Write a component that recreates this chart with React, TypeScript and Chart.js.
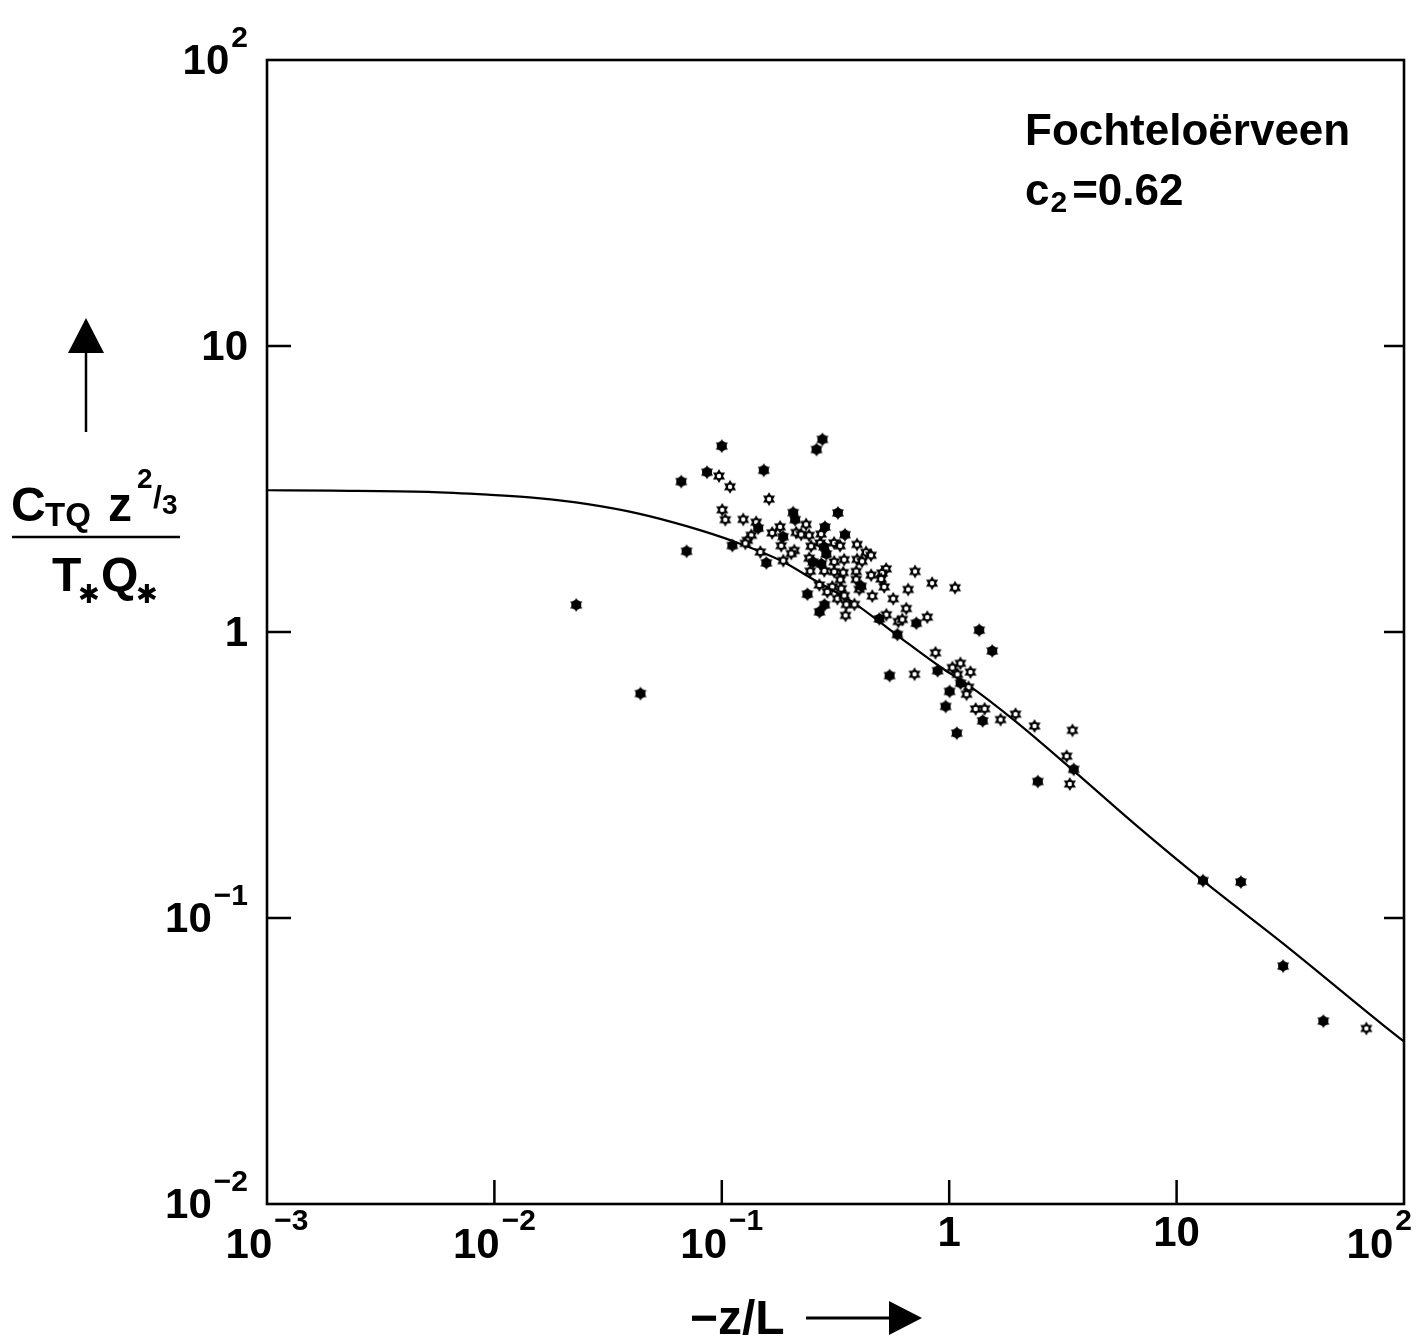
import React, { useEffect, useRef } from "react";
import { Chart, registerables } from "chart.js";

Chart.register(...registerables);

// ---- Data ----
const curveX = [0.001, 0.00193, 0.0051, 0.00935, 0.0155, 0.0257, 0.0426, 0.0706, 0.1136, 0.1824, 0.255, 0.383, 0.592, 0.925, 1.205, 1.94, 3.56, 6.55, 13.06, 30.0, 80.2, 100];
const curveY = [3.13, 3.12, 3.09, 3.02, 2.94, 2.8, 2.6, 2.34, 2.07, 1.774, 1.519, 1.26, 0.972, 0.75, 0.655, 0.49, 0.325, 0.213, 0.135, 0.0804, 0.0425, 0.037];

const filledX = [0.0229, 0.0439, 0.0663, 0.0861, 0.1, 0.07, 0.1113, 0.153, 0.277, 0.261, 0.1445, 0.206, 0.21, 0.324, 0.284, 0.186, 0.348, 0.282, 0.157, 0.288, 0.252, 0.274, 0.41, 0.238, 0.283, 0.269, 0.493, 0.717, 0.592, 1.355, 1.546, 0.547, 0.889, 1.122, 1.004, 0.965, 1.403, 1.08, 3.528, 2.454, 13.06, 19.17, 29.4, 44.2];
const filledY = [1.244, 0.609, 3.356, 3.62, 4.468, 1.915, 2.006, 3.677, 4.714, 4.346, 2.307, 2.614, 2.471, 2.609, 2.327, 2.153, 2.188, 1.982, 1.744, 1.874, 1.755, 1.729, 1.445, 1.356, 1.245, 1.176, 1.111, 1.073, 0.98, 1.015, 0.859, 0.704, 0.732, 0.662, 0.62, 0.549, 0.489, 0.443, 0.331, 0.3, 0.1351, 0.1336, 0.0679, 0.0436];

const openX = [0.0972, 0.1087, 0.1613, 0.1004, 0.1036, 0.1242, 0.1416, 0.1348, 0.1294, 0.1269, 0.2348, 0.2733, 0.1805, 0.1665, 0.1825, 0.2123, 0.2233, 0.2421, 0.247, 0.2706, 0.3118, 0.3313, 0.3932, 0.2083, 0.2021, 0.1477, 0.1864, 0.2424, 0.3122, 0.3451, 0.4308, 0.4533, 0.3936, 0.414, 0.245, 0.2822, 0.3122, 0.342, 0.39, 0.528, 0.507, 0.7077, 0.332, 0.39, 0.4538, 0.502, 0.2685, 0.306, 0.3354, 0.4023, 0.518, 0.841, 1.061, 0.66, 0.2912, 0.3224, 0.3457, 0.4588, 0.5674, 0.353, 0.383, 0.35, 0.529, 0.6475, 0.5976, 0.622, 0.801, 0.87, 0.704, 1.033, 1.12, 1.087, 1.24, 1.216, 1.192, 1.307, 1.431, 1.683, 1.958, 2.373, 3.484, 3.284, 3.391, 68.3];
const openY = [3.511, 3.219, 2.915, 2.674, 2.469, 2.475, 2.42, 2.179, 2.092, 2.042, 2.378, 2.199, 2.332, 2.221, 2.003, 2.227, 2.193, 2.178, 1.995, 2.046, 2.05, 2.002, 2.023, 1.927, 1.881, 1.904, 1.776, 1.811, 1.76, 1.79, 1.9, 1.855, 1.793, 1.766, 1.632, 1.635, 1.624, 1.613, 1.628, 1.662, 1.608, 1.628, 1.524, 1.527, 1.58, 1.532, 1.46, 1.439, 1.418, 1.41, 1.438, 1.482, 1.428, 1.408, 1.382, 1.308, 1.341, 1.335, 1.307, 1.248, 1.249, 1.143, 1.149, 1.208, 1.088, 1.106, 1.127, 0.846, 0.712, 0.751, 0.777, 0.711, 0.724, 0.641, 0.606, 0.538, 0.539, 0.494, 0.516, 0.469, 0.453, 0.368, 0.294, 0.0411];

const xTickValues = [0.001, 0.01, 0.1, 1, 10, 100];
const xTickBase = ["10", "10", "10", "1", "10", "10"];
const xTickExp = ["\u22123", "\u22122", "\u22121", "", "", "2"];
const yTickValues = [100, 10, 1, 0.1, 0.01];
const yTickBase = ["10", "10", "1", "10", "10"];
const yTickExp = ["2", "", "", "\u22121", "\u22122"];

const siteName = "Fochtelo\u00ebrveen";
const c2Value = "=0.62";

const FONT = '"Liberation Sans", Arial, Helvetica, sans-serif';

function makeMarker(filled: boolean): HTMLCanvasElement {
  const c = document.createElement("canvas");
  const s = 16;
  c.width = s;
  c.height = s;
  const g = c.getContext("2d")!;
  const cx = s / 2;
  const cy = s / 2;
  const R = 7;
  g.fillStyle = "#000";
  for (const rot of [-Math.PI / 2, Math.PI / 2]) {
    g.beginPath();
    for (let k = 0; k < 3; k++) {
      const a = rot + (k * 2 * Math.PI) / 3;
      const px = cx + R * Math.cos(a);
      const py = cy + R * Math.sin(a);
      if (k === 0) g.moveTo(px, py);
      else g.lineTo(px, py);
    }
    g.closePath();
    g.fill();
  }
  if (filled) {
    g.beginPath();
    g.arc(cx, cy, 5, 0, 2 * Math.PI);
    g.fill();
  } else {
    g.fillStyle = "#fff";
    g.beginPath();
    g.arc(cx, cy, 2.2, 0, 2 * Math.PI);
    g.fill();
  }
  return c;
}

const decorPlugin = {
  id: "decor",
  afterDraw(chart: any) {
    const ctx: CanvasRenderingContext2D = chart.ctx;
    const { left, right, top, bottom } = chart.chartArea;
    const xs = chart.scales.x;
    const ys = chart.scales.y;
    const setFont = (size: number, fam: string = FONT) => {
      ctx.font = `bold ${size}px ${fam}`;
    };
    ctx.save();
    ctx.fillStyle = "#000";
    ctx.strokeStyle = "#000";
    ctx.lineCap = "butt";

    // frame
    ctx.lineWidth = 2.6;
    ctx.strokeRect(left, top, right - left, bottom - top);

    // inward ticks
    ctx.lineWidth = 2.5;
    ctx.beginPath();
    yTickValues.forEach((v) => {
      if (v >= 100 || v <= 0.01) return;
      const py = ys.getPixelForValue(v);
      ctx.moveTo(left, py);
      ctx.lineTo(left + 24, py);
      ctx.moveTo(right, py);
      ctx.lineTo(right - 20, py);
    });
    xTickValues.forEach((v) => {
      if (v <= 0.001 || v >= 100) return;
      const px = xs.getPixelForValue(v);
      ctx.moveTo(px, bottom);
      ctx.lineTo(px, bottom - 24);
    });
    ctx.stroke();

    // y tick labels
    ctx.textAlign = "left";
    ctx.textBaseline = "alphabetic";
    const RX = 248;
    yTickValues.forEach((v, i) => {
      const py = ys.getPixelForValue(v);
      setFont(42);
      const wB = ctx.measureText(yTickBase[i]).width;
      let wE = 0;
      if (yTickExp[i]) {
        setFont(30);
        wE = ctx.measureText(yTickExp[i]).width + 2;
      }
      const start = RX - wB - wE;
      setFont(42);
      ctx.fillText(yTickBase[i], start, py + 14);
      if (yTickExp[i]) {
        setFont(30);
        ctx.fillText(yTickExp[i], start + wB + 2, py - 13);
      }
    });

    // x tick labels
    xTickValues.forEach((v, i) => {
      const px = xs.getPixelForValue(v);
      setFont(42);
      const wB = ctx.measureText(xTickBase[i]).width;
      let wE = 0;
      if (xTickExp[i]) {
        setFont(30);
        wE = ctx.measureText(xTickExp[i]).width + 2;
      }
      const total = wB + wE;
      let cx = px;
      const maxC = chart.width - total / 2 - 5;
      if (cx > maxC) cx = maxC;
      const start = cx - total / 2;
      const base = xTickExp[i] ? bottom + 54 : bottom + 42;
      setFont(42);
      ctx.fillText(xTickBase[i], start, base);
      if (xTickExp[i]) {
        setFont(30);
        ctx.fillText(xTickExp[i], start + wB + 2, base - 28);
      }
    });

    // x axis title with arrow
    setFont(48);
    ctx.fillText("\u2212z/L", 690, 1334);
    ctx.lineWidth = 3;
    ctx.beginPath();
    ctx.moveTo(806, 1318);
    ctx.lineTo(892, 1318);
    ctx.stroke();
    ctx.beginPath();
    ctx.moveTo(889, 1301);
    ctx.lineTo(922, 1318);
    ctx.lineTo(889, 1335);
    ctx.closePath();
    ctx.fill();

    // y axis title: arrow
    ctx.lineWidth = 2.5;
    ctx.beginPath();
    ctx.moveTo(86, 432);
    ctx.lineTo(86, 350);
    ctx.stroke();
    ctx.beginPath();
    ctx.moveTo(86, 318);
    ctx.lineTo(104, 353);
    ctx.lineTo(68, 353);
    ctx.closePath();
    ctx.fill();

    // y axis title: fraction
    setFont(48);
    ctx.fillText("C", 11, 521);
    setFont(33);
    ctx.fillText("TQ", 45, 526);
    setFont(48);
    ctx.fillText("z", 108, 521);
    setFont(28);
    ctx.fillText("2", 137, 488);
    setFont(32);
    ctx.fillText("/", 153, 508);
    setFont(28);
    ctx.fillText("3", 162, 514);
    ctx.lineWidth = 2.5;
    ctx.beginPath();
    ctx.moveTo(12, 537);
    ctx.lineTo(180, 537);
    ctx.stroke();
    setFont(48);
    ctx.fillText("T", 52, 591);
    ctx.fillText("Q", 101, 591);
    setFont(26, '"DejaVu Sans", sans-serif');
    ctx.fillText("\u2731", 78, 603);
    ctx.fillText("\u2731", 136, 603);

    // annotation
    setFont(44);
    ctx.fillText(siteName, 1025, 145);
    ctx.fillText("c", 1025, 205);
    const wc = ctx.measureText("c").width;
    setFont(30);
    ctx.fillText("2", 1025 + wc + 1, 212);
    const w2 = ctx.measureText("2").width;
    setFont(44);
    ctx.fillText(c2Value, 1025 + wc + w2 + 6, 205);

    ctx.restore();
  },
};

export default function App() {
  const ref = useRef<HTMLCanvasElement | null>(null);
  useEffect(() => {
    if (!ref.current) return;
    const filledMarker = makeMarker(true);
    const openMarker = makeMarker(false);
    const chart = new Chart(ref.current, {
      type: "scatter",
      data: {
        datasets: [
          {
            label: "filled",
            data: filledX.map((x, i) => ({ x, y: filledY[i] })),
            pointStyle: filledMarker as any,
            pointRadius: 7,
            order: 0,
          },
          {
            label: "open",
            data: openX.map((x, i) => ({ x, y: openY[i] })),
            pointStyle: openMarker as any,
            pointRadius: 7,
            order: 1,
          },
          {
            label: "curve",
            data: curveX.map((x, i) => ({ x, y: curveY[i] })),
            showLine: true,
            borderColor: "#000",
            borderWidth: 2.2,
            pointRadius: 0,
            cubicInterpolationMode: "monotone",
            fill: false,
            order: 2,
          } as any,
        ],
      },
      options: {
        animation: false,
        responsive: false,
        devicePixelRatio: 1,
        layout: { padding: { left: 267, right: 13, top: 60, bottom: 136 } },
        plugins: { legend: { display: false }, tooltip: { enabled: false } },
        scales: {
          x: { type: "logarithmic", min: 0.001, max: 100, display: false },
          y: { type: "logarithmic", min: 0.01, max: 100, display: false },
        },
      },
      plugins: [decorPlugin],
    });
    return () => chart.destroy();
  }, []);
  return (
    <div style={{ position: "absolute", left: 0, top: 0, width: 1417, height: 1340, background: "#fff" }}>
      <canvas ref={ref} width={1417} height={1340} style={{ display: "block" }} />
    </div>
  );
}
